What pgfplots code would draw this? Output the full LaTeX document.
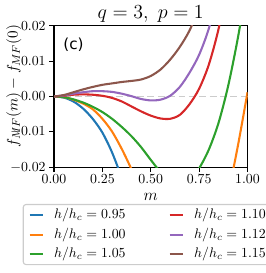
\documentclass[border=0pt]{standalone}
\usepackage{fontspec}
\usepackage{pgfplots}
\pgfplotsset{compat=1.18}
\newfontfamily\dejavu{DejaVu Sans}
\definecolor{tabblue}{HTML}{1F77B4}
\definecolor{taborange}{HTML}{FF7F0E}
\definecolor{tabgreen}{HTML}{2CA02C}
\definecolor{tabred}{HTML}{D62728}
\definecolor{tabpurple}{HTML}{9467BD}
\definecolor{tabbrown}{HTML}{8C564B}
\begin{document}
\begin{tikzpicture}
\begin{axis}[
  scale only axis, width=139.85pt, height=102.33pt,
  xmin=0, xmax=1, ymin=-0.02, ymax=0.02,
  xtick={0,0.25,0.5,0.75,1}, ytick={-0.02,-0.01,0,0.01,0.02},
  scaled y ticks=false, scaled x ticks=false,
  xticklabel style={yshift=1.5pt,/pgf/number format/.cd,fixed,fixed zerofill,precision=2},
  yticklabel style={xshift=1pt,/pgf/number format/.cd,fixed,fixed zerofill,precision=2},
  tick align=outside, tick pos=left, major tick length=3.5pt,
  tick style={black, line width=0.8pt},
  axis line style={line width=1pt},
  title={$q=3,\ p=1$},
  title style={font=\fontsize{13.6}{16}\selectfont, at={(axis description cs:0.5,1)}, anchor=south, inner sep=0pt, yshift=-4pt},
  ylabel={$f_{MF}(m)-f_{MF}(0)$},
  ylabel style={font=\fontsize{11}{13}\selectfont, at={(axis description cs:-0.167,0.574)}, anchor=south, inner sep=0pt},
  xlabel={$m$},
  xlabel style={font=\fontsize{12}{14}\selectfont, at={(axis description cs:0.5,0)}, anchor=north, inner sep=0pt, yshift=-18.5pt},
  legend columns=2,
  legend cell align=left,
  legend style={at={(axis description cs:-0.1618,-0.259)}, anchor=north west, draw=black!20, rounded corners=2pt, line width=0.8pt, inner xsep=3.8pt, inner ysep=2.2pt, font=\fontsize{10}{12}\selectfont, row sep=3pt, nodes={inner xsep=3.3pt, inner ysep=1pt, text height=7pt, text depth=2pt}, /tikz/column 1/.style={column sep=3.7pt}, /tikz/column 2/.style={column sep=27.7pt}, /tikz/column 3/.style={column sep=3.7pt}},
  legend image code/.code={\draw[#1, line width=1.5pt] (0pt,0pt) -- (10pt,0pt);},
]
\addplot[gray!40, line width=1.3pt, dash pattern=on 5pt off 2.5pt, forget plot] coordinates {(0,0) (1,0)};
% h/hc = 0.95
\addplot[tabblue, line width=1.5pt, smooth, forget plot] table {
0 0
0.05 -0.0003
0.10 -0.0014
0.15 -0.0034
0.20 -0.0063
0.25 -0.0102
0.30 -0.0158
0.35 -0.0230
0.40 -0.0310
};
% h/hc = 1.00
\addplot[taborange, line width=1.5pt, smooth, forget plot] table {
0 0
0.05 -0.0002
0.10 -0.0009
0.15 -0.0020
0.20 -0.0036
0.25 -0.0063
0.30 -0.0099
0.35 -0.0148
0.40 -0.0205
0.45 -0.0265
0.50 -0.0320
0.55 -0.0365
0.60 -0.0405
0.65 -0.0435
0.70 -0.0450
0.75 -0.0445
0.80 -0.0415
0.85 -0.0360
0.90 -0.0272
0.95 -0.0140
1.00 0.0012
};
% h/hc = 1.05
\addplot[tabgreen, line width=1.5pt, smooth, forget plot] table {
0 0
0.05 -0.0002
0.10 -0.0008
0.15 -0.0017
0.20 -0.0029
0.25 -0.0044
0.30 -0.0063
0.35 -0.0086
0.40 -0.0112
0.45 -0.0143
0.50 -0.0179
0.55 -0.0213
0.60 -0.0238
0.65 -0.0250
0.70 -0.0240
0.75 -0.0203
0.80 -0.0150
0.85 -0.0075
0.90 0.0030
0.95 0.0165
1.00 0.0325
};
% h/hc = 1.10
\addplot[tabred, line width=1.5pt, smooth, forget plot] table {
0 0
0.05 0.0002
0.10 0.0005
0.15 0.0006
0.20 0.0005
0.25 0.0002
0.30 -0.0004
0.35 -0.0014
0.40 -0.0028
0.45 -0.0042
0.50 -0.0054
0.55 -0.0062
0.60 -0.0063
0.65 -0.0052
0.70 -0.0022
0.75 0.0022
0.80 0.0090
0.85 0.0190
0.90 0.0325
};
% h/hc = 1.12
\addplot[tabpurple, line width=1.5pt, smooth, forget plot] table {
0 0
0.05 0.0003
0.10 0.0008
0.15 0.0012
0.20 0.0015
0.25 0.0015
0.30 0.0013
0.35 0.0008
0.40 0.0001
0.45 -0.0007
0.50 -0.0011
0.55 -0.0009
0.60 0.0002
0.65 0.0027
0.70 0.0067
0.75 0.0118
0.80 0.0192
0.85 0.0300
};
% h/hc = 1.15
\addplot[tabbrown, line width=1.5pt, smooth, forget plot] table {
0 0
0.05 0.0004
0.10 0.0012
0.15 0.0020
0.20 0.0027
0.25 0.0033
0.30 0.0037
0.35 0.0041
0.40 0.0044
0.45 0.0048
0.50 0.0058
0.55 0.0076
0.60 0.0104
0.65 0.0140
0.70 0.0186
0.75 0.0250
};
\addlegendimage{tabblue}\addlegendentry{$h/h_c=0.95$}
\addlegendimage{tabred}\addlegendentry{$h/h_c=1.10$}
\addlegendimage{taborange}\addlegendentry{$h/h_c=1.00$}
\addlegendimage{tabpurple}\addlegendentry{$h/h_c=1.12$}
\addlegendimage{tabgreen}\addlegendentry{$h/h_c=1.05$}
\addlegendimage{tabbrown}\addlegendentry{$h/h_c=1.15$}
\node[anchor=west, font=\dejavu\fontsize{11}{13}\selectfont, inner sep=0pt] at (axis description cs:0.047,0.864) {(c)};
\end{axis}
\pgfresetboundingbox
\path[use as bounding box] (-39.03pt,-76.39pt) rectangle (153.21pt,120.91pt);
\end{tikzpicture}
\end{document}
